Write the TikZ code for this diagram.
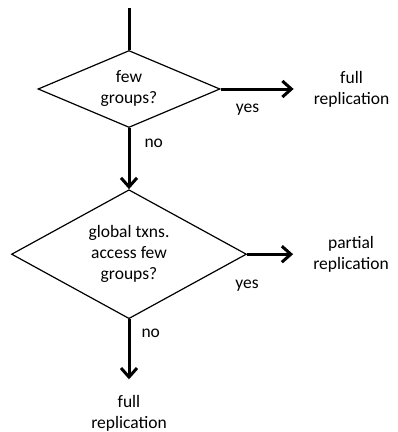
\documentclass[tikz,border=0pt]{standalone}
\usepackage{fontspec}
\setmainfont{Carlito}
\usetikzlibrary{shapes.geometric, arrows.meta, positioning}

\begin{document}
\begin{tikzpicture}[x=1pt, y=-1pt, node distance=20pt, font=\fontsize{17.5}{21}\selectfont]

% Define styles
\tikzstyle{decision} = [diamond, draw=black, line width=1.2pt, inner sep=0pt, align=center]
\tikzstyle{result} = [align=center, inner sep=0pt]
\tikzstyle{answer} = [inner sep=0pt]
\tikzstyle{trunk} = [draw, line width=3pt]
\tikzstyle{line} = [draw, line width=3pt, -{Straight Barb[length=9pt, width=16pt]}]

\useasboundingbox (0,0) rectangle (398,432);

% Place nodes
\coordinate (start) at (129,8);
\node [decision, aspect=2.36, minimum width=182pt, minimum height=77pt] (few) at (129,89) {few\\groups?};
\node [decision, aspect=1.82, minimum width=235pt, minimum height=129pt, below=61pt of few] (global) {global txns.\\access few\\groups?};
\coordinate [right=73pt of few.east] (fewyes);
\coordinate [right=46pt of global.east] (globalyes);
\coordinate [below=60pt of global.south] (globalno);
\node [result, right=20pt of fewyes] (full) {full\\replication};
\node [result, right=20pt of globalyes] (partial) {partial\\replication};
\node [result, below=16pt of globalno] (fullbottom) {full\\replication};

% Draw edges
\path [trunk] (start) -- (few.north);
\path [line] (few.east) -- node[answer, pos=0.37, below=14pt] (yes1) {yes} (fewyes);
\path [line] (few.south) -- node[answer, pos=0.25, right=14pt] (no1) {no} (global.north);
\path [line] (global.east) -- node[answer, pos=0, below=24pt] (yes2) {yes} (globalyes);
\path [line] (global.south) -- node[answer, pos=0.23, right=11pt] (no2) {no} (globalno);

\end{tikzpicture}
\end{document}
